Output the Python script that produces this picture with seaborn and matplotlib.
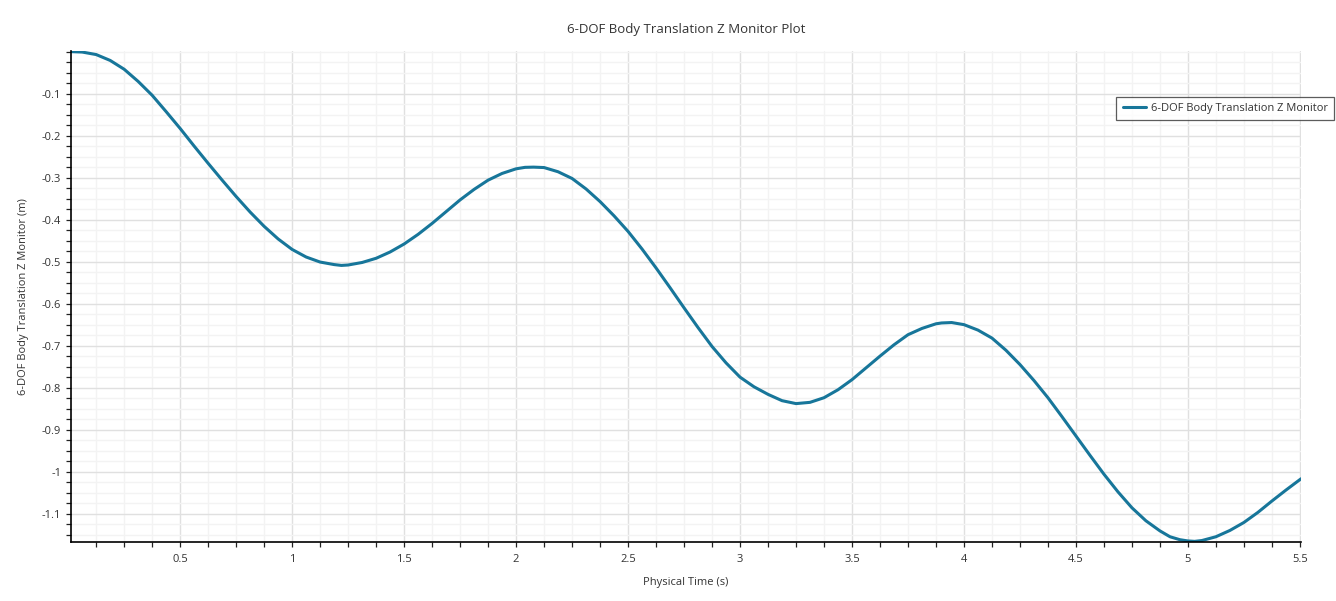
import matplotlib
matplotlib.use("Agg")
import matplotlib.pyplot as plt
from matplotlib.ticker import MultipleLocator, FuncFormatter
import seaborn as sns
import pandas as pd

# ---- data ----
time_s = [0.0125, 0.0625, 0.125, 0.1875, 0.25, 0.3125, 0.375, 0.4375, 0.5, 0.5625,
          0.625, 0.6875, 0.75, 0.8125, 0.875, 0.9375, 1.0, 1.0625, 1.125, 1.1875,
          1.22, 1.25, 1.3125, 1.375, 1.4375, 1.5, 1.5625, 1.625, 1.6875, 1.75,
          1.8125, 1.875, 1.9375, 2.0, 2.04, 2.078, 2.125, 2.1875, 2.25, 2.3125,
          2.375, 2.4375, 2.5, 2.5625, 2.625, 2.6875, 2.75, 2.8125, 2.875, 2.9375,
          3.0, 3.0625, 3.125, 3.1875, 3.25, 3.3125, 3.375, 3.4375, 3.5, 3.5625,
          3.625, 3.6875, 3.75, 3.8125, 3.875, 3.90, 3.945, 4.0, 4.0625, 4.125,
          4.1875, 4.25, 4.3125, 4.375, 4.4375, 4.5, 4.5625, 4.625, 4.6875, 4.75,
          4.8125, 4.875, 4.92, 4.964, 5.0, 5.03, 5.0625, 5.125, 5.1875, 5.25,
          5.3125, 5.375, 5.4375, 5.505]
z_m = [0.0, -0.001, -0.007, -0.021, -0.042, -0.071, -0.104, -0.143, -0.183, -0.225,
       -0.266, -0.306, -0.345, -0.382, -0.416, -0.446, -0.471, -0.489, -0.501, -0.507,
       -0.509, -0.508, -0.502, -0.492, -0.477, -0.458, -0.435, -0.409, -0.381, -0.353,
       -0.328, -0.306, -0.290, -0.279, -0.2755, -0.275, -0.276, -0.286, -0.302, -0.327,
       -0.357, -0.391, -0.428, -0.470, -0.515, -0.562, -0.610, -0.657, -0.702, -0.741,
       -0.775, -0.798, -0.816, -0.831, -0.838, -0.835, -0.824, -0.805, -0.781, -0.753,
       -0.725, -0.698, -0.674, -0.659, -0.648, -0.646, -0.645, -0.650, -0.663, -0.682,
       -0.711, -0.745, -0.783, -0.824, -0.869, -0.915, -0.961, -1.006, -1.048, -1.086,
       -1.117, -1.141, -1.155, -1.162, -1.165, -1.166, -1.164, -1.155, -1.140, -1.121,
       -1.097, -1.070, -1.044, -1.017]
x_ticks = [0.5, 1, 1.5, 2, 2.5, 3, 3.5, 4, 4.5, 5, 5.5]
y_ticks = [-0.1, -0.2, -0.3, -0.4, -0.5, -0.6, -0.7, -0.8, -0.9, -1.0, -1.1]
series_name = "6-DOF Body Translation Z Monitor"

df = pd.DataFrame({"Physical Time (s)": time_s, "z": z_m, "series": series_name})

sns.set_theme(style="white")
plt.rcParams["font.family"] = ["Open Sans", "DejaVu Sans"]

fig = plt.figure(figsize=(13.36, 6.01), dpi=100)
ax = fig.add_axes([71 / 1336, 1 - 542 / 601, (1301 - 71) / 1336, (542 - 51) / 601])

line_color = "#17769a"
sns.lineplot(data=df, x="Physical Time (s)", y="z", hue="series",
             palette=[line_color], linewidth=2.2, ax=ax, legend=True)

ax.set_xlim(0.0125, 5.505)
ax.set_ylim(-1.1675, 0.0015)

ax.xaxis.set_major_locator(plt.FixedLocator(x_ticks))
ax.yaxis.set_major_locator(plt.FixedLocator(y_ticks))
ax.xaxis.set_minor_locator(MultipleLocator(0.125))
ax.yaxis.set_minor_locator(MultipleLocator(0.025))

fmt = FuncFormatter(lambda v, p: ("%g" % round(v, 3)))
ax.xaxis.set_major_formatter(fmt)
ax.yaxis.set_major_formatter(fmt)

ax.grid(which="major", color="#e0e0e0", linewidth=1.0)
ax.grid(which="minor", color="#f3f3f3", linewidth=1.0)
ax.set_axisbelow(True)

for s in ["top", "right"]:
    ax.spines[s].set_visible(False)
for s in ["left", "bottom"]:
    ax.spines[s].set_color("black")
    ax.spines[s].set_linewidth(1.2)

ax.tick_params(which="both", direction="out", length=3.5, width=0.9, color="#222222",
               labelsize=8, labelcolor="#333333", left=True, bottom=True)
ax.tick_params(axis="x", pad=5)
ax.tick_params(axis="y", pad=3.5)

ax.set_xlabel("Physical Time (s)", fontsize=8, color="#333333", labelpad=8.5)
ax.set_ylabel("6-DOF Body Translation Z Monitor (m)", fontsize=8, color="#333333", labelpad=9)
fig.text(686 / 1336, 1 - 30 / 601, "6-DOF Body Translation Z Monitor Plot",
         ha="center", va="center", fontsize=9.5, color="#333333")

leg = ax.legend(loc="upper right", bbox_to_anchor=(1334 / 1336, 1 - 97 / 601),
                bbox_transform=fig.transFigure, frameon=True, fancybox=False,
                fontsize=8, handlelength=2.1, borderpad=0.55, borderaxespad=0,
                handletextpad=0.45)
leg.get_frame().set_edgecolor("#333333")
leg.get_frame().set_linewidth(0.9)
for t in leg.get_texts():
    t.set_color("#333333")

fig.savefig("out.png", dpi=100)
